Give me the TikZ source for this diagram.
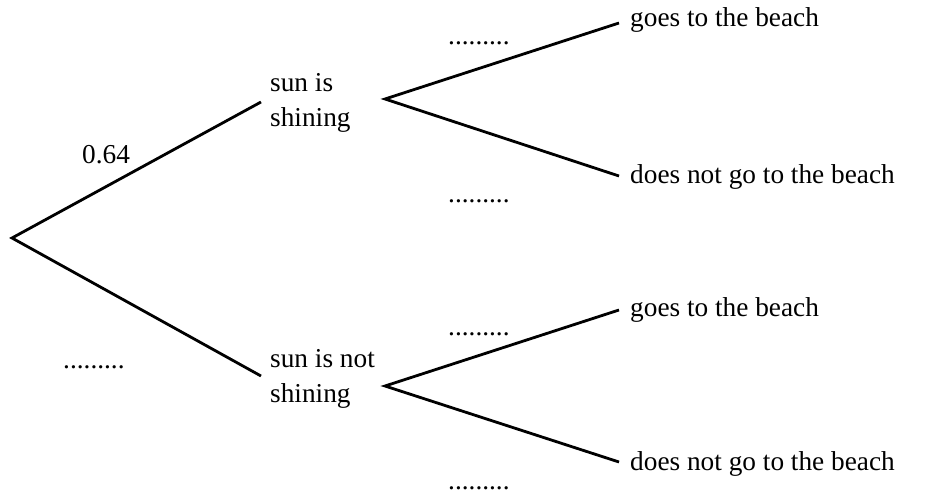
\documentclass[tikz,border=0pt]{standalone}
\usepackage{fontspec}
\setmainfont{Liberation Serif}
\begin{document}
\begin{tikzpicture}[x=1pt,y=-1pt,
  branch/.style={line width=2.8pt,line cap=butt,line join=miter},
  lbl/.style={anchor=base west,inner sep=0pt,font=\fontsize{27.3}{35}\selectfont}]
\useasboundingbox (0,0) rectangle (935,495);
% coordinates
\coordinate (root) at (12,238);
\coordinate (s1) at (261,102);
\coordinate (s2) at (261,376);
\coordinate (f1) at (385,99);
\coordinate (f1a) at (619,23);
\coordinate (f1b) at (619,176);
\coordinate (f2) at (385,386);
\coordinate (f2a) at (619,310);
\coordinate (f2b) at (619,462);
% branches
\draw[branch] (s1) -- (root) -- (s2);
\draw[branch] (f1a) -- (f1) -- (f1b);
\draw[branch] (f2a) -- (f2) -- (f2b);
% labels
\node[lbl] (sun) at (270,92) {\begin{tabular}[t]{@{}l@{}}sun is\\shining\end{tabular}};
\node[lbl] (nosun) at (270,367) {\begin{tabular}[t]{@{}l@{}}sun is not\\shining\end{tabular}};
\node[lbl] (g1) at (630,27) {goes to the beach};
\node[lbl] (d1) at (630,183) {does not go to the beach};
\node[lbl] (g2) at (630,316) {goes to the beach};
\node[lbl] (d2) at (630,470) {does not go to the beach};
\node[lbl] (p) at (82,163) {0.64};
\node[lbl] (q) at (63,368.5) {.........};
\node[lbl] (p1) at (448,45) {.........};
\node[lbl] (p2) at (448,202.5) {.........};
\node[lbl] (p3) at (448,335.5) {.........};
\node[lbl] (p4) at (448,489.5) {.........};
\end{tikzpicture}
\end{document}
